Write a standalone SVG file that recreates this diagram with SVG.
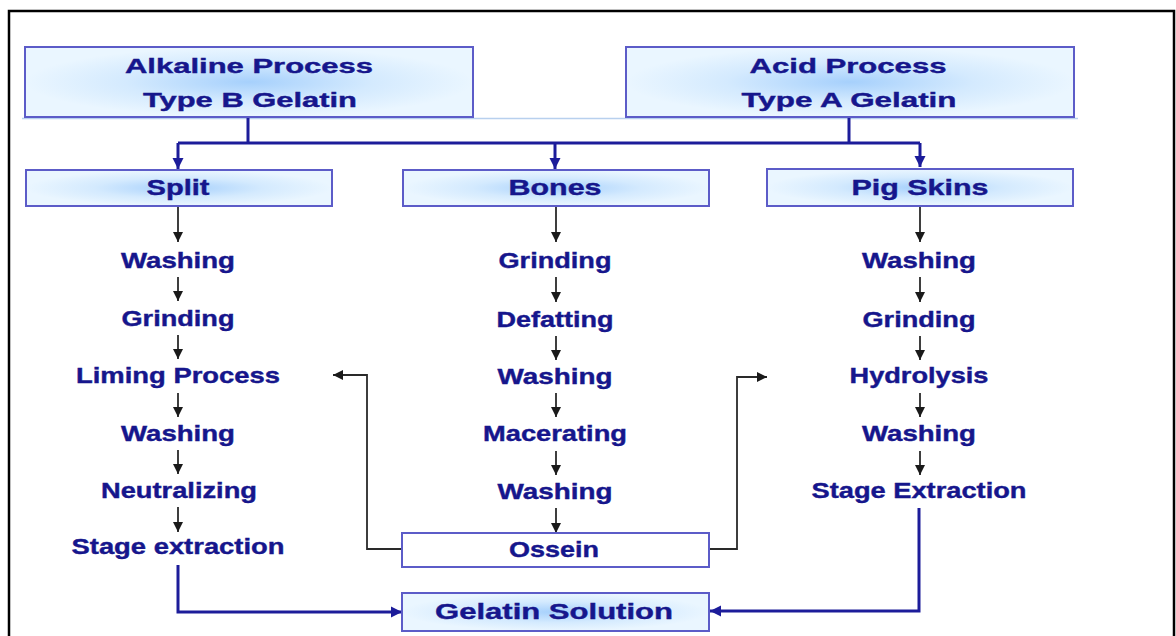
<svg xmlns="http://www.w3.org/2000/svg" width="1176" height="636" viewBox="0 0 1176 636">
<defs>
<radialGradient id="boxFill" cx="0.5" cy="0.5" r="0.5">
<stop offset="0" stop-color="#a6d0fc"/>
<stop offset="0.55" stop-color="#d4eafe"/>
<stop offset="1" stop-color="#eaf6ff"/>
</radialGradient>
<marker id="blueArrow" viewBox="0 0 10 10" refX="10" refY="5" markerWidth="11" markerHeight="12" markerUnits="userSpaceOnUse" orient="auto">
<path d="M0,0 L10,5 L0,10 z" fill="#1c1c9a"/>
</marker>
<marker id="grayArrow" viewBox="0 0 10 10" refX="10" refY="5" markerWidth="10" markerHeight="10" markerUnits="userSpaceOnUse" orient="auto">
<path d="M0,0 L10,5 L0,10 z" fill="#1a1a1a"/>
</marker>
</defs>
<style>
.box{fill:url(#boxFill);stroke:#5c5cc8;stroke-width:2}
.wbox{fill:#fff;stroke:#5c5cc8;stroke-width:2}
.t{font-family:"Liberation Sans",Arial,sans-serif;font-weight:bold;fill:#16168c;stroke:#16168c;stroke-width:0.4;text-anchor:middle}
.big{font-size:21px}
.step{font-size:22px}
.blue{fill:none;stroke:#1c1c9a;stroke-width:3}
.gray{fill:none;stroke:#2a2a2a;stroke-width:1.8}
</style>
<rect width="1176" height="636" fill="#fff"/>
<path d="M9,636 V11 H1174 V636" fill="none" stroke="#000" stroke-width="2.5"/>
<line x1="22" y1="118.5" x2="1078" y2="118.5" stroke="#b8d0ee" stroke-width="1.5"/>

<g id="connectors">
<path class="blue" d="M248,117 V143 M849,117 V143 M178,143 H920"/>
<path class="blue" d="M178,143 V169" marker-end="url(#blueArrow)"/>
<path class="blue" d="M555,143 V169" marker-end="url(#blueArrow)"/>
<path class="blue" d="M920,143 V167" marker-end="url(#blueArrow)"/>
<path class="blue" d="M178,565 V612 H402" marker-end="url(#blueArrow)"/>
<path class="blue" d="M919,508 V611 H710" marker-end="url(#blueArrow)"/>
<g class="gray-steps">
<path class="gray" d="M178,206 V242" marker-end="url(#grayArrow)"/>
<path class="gray" d="M178,277 V301" marker-end="url(#grayArrow)"/>
<path class="gray" d="M178,335 V359" marker-end="url(#grayArrow)"/>
<path class="gray" d="M178,393 V417" marker-end="url(#grayArrow)"/>
<path class="gray" d="M178,450 V474" marker-end="url(#grayArrow)"/>
<path class="gray" d="M178,507 V532" marker-end="url(#grayArrow)"/>
<path class="gray" d="M556,206 V242" marker-end="url(#grayArrow)"/>
<path class="gray" d="M556,277 V302" marker-end="url(#grayArrow)"/>
<path class="gray" d="M556,336 V360" marker-end="url(#grayArrow)"/>
<path class="gray" d="M556,393 V417" marker-end="url(#grayArrow)"/>
<path class="gray" d="M556,451 V475" marker-end="url(#grayArrow)"/>
<path class="gray" d="M556,508 V533" marker-end="url(#grayArrow)"/>
<path class="gray" d="M920,206 V242" marker-end="url(#grayArrow)"/>
<path class="gray" d="M920,277 V302" marker-end="url(#grayArrow)"/>
<path class="gray" d="M920,336 V360" marker-end="url(#grayArrow)"/>
<path class="gray" d="M920,393 V417" marker-end="url(#grayArrow)"/>
<path class="gray" d="M920,451 V475" marker-end="url(#grayArrow)"/>
</g>
<path class="gray" d="M402,549 H367 V375 H333" marker-end="url(#grayArrow)"/>
<path class="gray" d="M709,549 H737 V377 H767" marker-end="url(#grayArrow)"/>
</g>

<g id="alkaline">
<rect class="box" x="25" y="47" width="448" height="70"/>
<text class="t big" x="249" y="73" textLength="248" lengthAdjust="spacingAndGlyphs">Alkaline Process</text>
<text class="t big" x="250" y="107" textLength="214" lengthAdjust="spacingAndGlyphs">Type B Gelatin</text>
</g>
<g id="acid">
<rect class="box" x="626" y="47" width="448" height="70"/>
<text class="t big" x="848" y="73" textLength="197" lengthAdjust="spacingAndGlyphs">Acid Process</text>
<text class="t big" x="849" y="107" textLength="215" lengthAdjust="spacingAndGlyphs">Type A Gelatin</text>
</g>
<g id="split">
<rect class="box" x="26" y="170" width="306" height="36"/>
<text class="t step" x="178" y="195" textLength="63" lengthAdjust="spacingAndGlyphs">Split</text>
</g>
<g id="bones">
<rect class="box" x="403" y="170" width="306" height="36"/>
<text class="t step" x="555" y="195" textLength="93" lengthAdjust="spacingAndGlyphs">Bones</text>
</g>
<g id="pigskins">
<rect class="box" x="767" y="169" width="306" height="37"/>
<text class="t step" x="920" y="195" textLength="137" lengthAdjust="spacingAndGlyphs">Pig Skins</text>
</g>

<g id="left-steps">
<text class="t step" x="178" y="268" textLength="114" lengthAdjust="spacingAndGlyphs">Washing</text>
<text class="t step" x="178" y="326" textLength="113" lengthAdjust="spacingAndGlyphs">Grinding</text>
<text class="t step" x="178" y="383" textLength="204" lengthAdjust="spacingAndGlyphs">Liming Process</text>
<text class="t step" x="178" y="441" textLength="114" lengthAdjust="spacingAndGlyphs">Washing</text>
<text class="t step" x="179" y="498" textLength="156" lengthAdjust="spacingAndGlyphs">Neutralizing</text>
<text class="t step" x="178" y="554" textLength="213" lengthAdjust="spacingAndGlyphs">Stage extraction</text>
</g>
<g id="middle-steps">
<text class="t step" x="555" y="268" textLength="113" lengthAdjust="spacingAndGlyphs">Grinding</text>
<text class="t step" x="555" y="327" textLength="117" lengthAdjust="spacingAndGlyphs">Defatting</text>
<text class="t step" x="555" y="384" textLength="115" lengthAdjust="spacingAndGlyphs">Washing</text>
<text class="t step" x="555" y="441" textLength="144" lengthAdjust="spacingAndGlyphs">Macerating</text>
<text class="t step" x="555" y="499" textLength="115" lengthAdjust="spacingAndGlyphs">Washing</text>
</g>
<g id="right-steps">
<text class="t step" x="919" y="268" textLength="114" lengthAdjust="spacingAndGlyphs">Washing</text>
<text class="t step" x="919" y="327" textLength="113" lengthAdjust="spacingAndGlyphs">Grinding</text>
<text class="t step" x="919" y="383" textLength="139" lengthAdjust="spacingAndGlyphs">Hydrolysis</text>
<text class="t step" x="919" y="441" textLength="114" lengthAdjust="spacingAndGlyphs">Washing</text>
<text class="t step" x="919" y="498" textLength="215" lengthAdjust="spacingAndGlyphs">Stage Extraction</text>
</g>
<g id="ossein">
<rect class="wbox" x="402" y="533" width="307" height="34"/>
<text class="t step" x="554" y="557" textLength="90" lengthAdjust="spacingAndGlyphs">Ossein</text>
</g>
<g id="gelatin-solution">
<rect class="box" x="402" y="593" width="307" height="38"/>
<text class="t step" x="554" y="619" textLength="238" lengthAdjust="spacingAndGlyphs">Gelatin Solution</text>
</g>
</svg>
